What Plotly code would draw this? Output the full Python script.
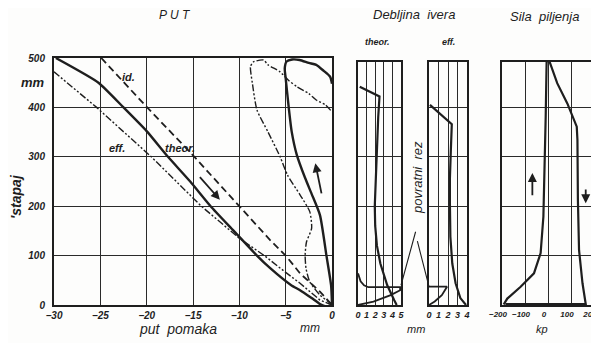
import plotly.graph_objects as go

# page body has an 8px margin; the figure is sized so that it ends at the window edge
OX, OY = 8, 8
W, H = 599 - OX, 343 - OY

# ---------------- data ----------------
# PUT panel: put pomaka (mm) vs stapaj (mm)
ideal_x = [-24.9, -20.0, -15.1, -9.9, -6.7, -4.9, -3.45, -1.3, 0]
ideal_y = [500, 401, 305, 199, 132, 98, 64, 27, 0]

theor_x = [-29.8, -25.2, -22.5, -20.0, -17.7, -15.3, -13.1, -10.6, -8.1, -6.7, -4.4, -3.45, -2.2, -1.3, -0.6, 0]
theor_y = [500, 450, 400, 352, 300, 250, 200, 150, 100, 75, 40, 30, 14, 2, -3, 0]

theor_ret_x = [0, -0.1, -0.6, -1.3, -2.2, -2.9, -3.8, -4.35, -4.7, -5.0, -5.1, -4.9, -4.3, -3.5, -2.5, -1.7, -0.9, -0.2, 0]
theor_ret_y = [0, 40, 100, 182, 225, 257, 304, 351, 405, 459, 479, 493, 497, 496, 490, 486, 474, 462, 448]

eff_x = [-30.0, -25.4, -19.5, -14.1, -10.0, -7.3, -5.0, -3.45, -1.3, 0]
eff_y = [472, 400, 300, 200, 135, 100, 66, 44, 10, 0]

eff_ret_x = [0, -0.2, -1.3, -2.4, -2.8, -2.9, -2.75, -2.2, -2.4, -3.45, -4.8, -5.6, -6.9, -8.1,
             -8.6, -8.8, -8.5, -7.4, -6.9, -5.6, -4.7, -3.8, -2.5, -1.7, -0.7, 0]
eff_ret_y = [0, 4, 20, 47, 74, 101, 128, 155, 189, 223, 263, 300, 350, 395,
             450, 482, 492, 496, 486, 472, 455, 442, 428, 415, 405, 391]

# Debljina ivera (mm) - theor.
chip_theor_x = [0.2, 2.5, 2.35, 2.2, 2.05, 1.95, 1.95, 2.0, 2.2, 2.6, 3.4, 4.2, 4.5]
chip_theor_y = [442, 422, 380, 320, 270, 230, 200, 160, 120, 84, 40, 10, 0]
chip_theor_ret_x = [0, 0.3, 0.7, 1.2, 2.5, 4.9, 4.9, 3.8, 1.8, 0]
chip_theor_ret_y = [64, 48, 40, 36, 36, 36, 30, 20, 7, 0]

# Debljina ivera (mm) - eff.
chip_eff_x = [0.1, 2.4, 2.3, 2.2, 2.2, 2.25, 2.45, 2.8, 3.3, 3.9]
chip_eff_y = [405, 366, 314, 256, 206, 138, 84, 44, 14, 0]
chip_eff_ret_x = [0, 1.9, 1.35, 0.6, 0]
chip_eff_ret_y = [37, 37, 20, 7, 0]

# Sila piljenja (kp)
force_ret_x = [-185, -190, -177, -119, -61, -32, -20, -14, -10, -6, 5]
force_ret_y = [2, 3, 13, 37, 64, 105, 179, 280, 381, 492, 495]
force_cut_x = [5, 40, 84, 113, 125, 128, 130, 135, 150, 164, -185]
force_cut_y = [495, 449, 408, 375, 361, 334, 213, 111, 44, 2, 2]

main_xticks = [-30, -25, -20, -15, -10, -5, 0]
main_yticks = [0, 100, 200, 300, 400, 500]
theor_xticks = [0, 1, 2, 3, 4, 5]
eff_xticks = [0, 1, 2, 3, 4]
force_xticks = [-200, -100, 0, 100, 200]

# ---------------- styling ----------------
ink = "#1e1e1e"
FONT = "Liberation Sans"


def f(size, bold=True):
    return dict(family=FONT, size=size, color=ink, style="italic", weight="bold" if bold else "normal")


def px(p):
    return (p - OX) / W


def py(p):
    return 1 - (p - OY) / H


def dom_x(a, b):
    return [px(a), px(b)]


def dom_y(top, bottom):
    return [py(bottom), py(top)]


fig = go.Figure()

solid = dict(color=ink, width=2.4)
dashdot = dict(color=ink, width=1.4, dash="7px,2px,2px,2px,2px,2px")
dashed = dict(color=ink, width=1.8, dash="7px,4px")

fig.add_trace(go.Scatter(x=ideal_x, y=ideal_y, mode="lines", line=dashed, xaxis="x", yaxis="y"))
fig.add_trace(go.Scatter(x=eff_x, y=eff_y, mode="lines", line=dashdot, xaxis="x", yaxis="y"))
fig.add_trace(go.Scatter(x=eff_ret_x, y=eff_ret_y, mode="lines", line=dict(dashdot, shape="spline", smoothing=0.6),
                         xaxis="x", yaxis="y"))
fig.add_trace(go.Scatter(x=theor_x, y=theor_y, mode="lines", line=dict(solid, shape="spline", smoothing=0.5),
                         xaxis="x", yaxis="y"))
fig.add_trace(go.Scatter(x=theor_ret_x, y=theor_ret_y, mode="lines", line=dict(solid, shape="spline", smoothing=0.6),
                         xaxis="x", yaxis="y"))

fig.add_trace(go.Scatter(x=chip_theor_x, y=chip_theor_y, mode="lines", line=dict(color=ink, width=2.2),
                         xaxis="x2", yaxis="y2"))
fig.add_trace(go.Scatter(x=chip_theor_ret_x, y=chip_theor_ret_y, mode="lines", line=dict(color=ink, width=1.8),
                         xaxis="x2", yaxis="y2"))
fig.add_trace(go.Scatter(x=chip_eff_x, y=chip_eff_y, mode="lines", line=dict(color=ink, width=2.2),
                         xaxis="x3", yaxis="y3"))
fig.add_trace(go.Scatter(x=chip_eff_ret_x, y=chip_eff_ret_y, mode="lines", line=dict(color=ink, width=1.8),
                         xaxis="x3", yaxis="y3"))
fig.add_trace(go.Scatter(x=force_ret_x, y=force_ret_y, mode="lines", line=dict(color=ink, width=2.2),
                         xaxis="x4", yaxis="y4"))
fig.add_trace(go.Scatter(x=force_cut_x, y=force_cut_y, mode="lines", line=dict(color=ink, width=2.2),
                         xaxis="x4", yaxis="y4"))

axis_common = dict(showline=True, mirror=True, linecolor=ink, linewidth=2,
                   showgrid=True, gridcolor="#2a2a2a", gridwidth=1.4, zeroline=False,
                   ticks="", fixedrange=True, automargin=False)

side_top = 62
side_range = [0, (305 - side_top) / 49.4 * 100]

fig.update_layout(
    width=W, height=H, margin=dict(l=0, r=0, t=0, b=0, autoexpand=False),
    paper_bgcolor="#fdfdfc", plot_bgcolor="#fdfdfc", showlegend=False,
    xaxis=dict(axis_common, domain=dom_x(54, 332), range=[-30, 0], tickvals=main_xticks,
               tickfont=f(10), ticklabelstandoff=0, anchor="y"),
    yaxis=dict(axis_common, domain=dom_y(58, 305), range=[0, 500], tickvals=main_yticks,
               tickfont=f(10), ticklabelstandoff=5, anchor="x"),
    xaxis2=dict(axis_common, domain=dom_x(358, 401), range=[0, 5], tickvals=theor_xticks,
                tickfont=f(9), ticklabelstandoff=0, anchor="y2"),
    yaxis2=dict(axis_common, domain=dom_y(side_top, 305), range=side_range, tickvals=[100, 200, 300, 400],
                showticklabels=False, anchor="x2"),
    xaxis3=dict(axis_common, domain=dom_x(429, 467), range=[0, 4], tickvals=eff_xticks,
                tickfont=f(9), ticklabelstandoff=0, anchor="y3"),
    yaxis3=dict(axis_common, domain=dom_y(side_top, 305), range=side_range, tickvals=[100, 200, 300, 400],
                showticklabels=False, anchor="x3"),
    xaxis4=dict(axis_common, domain=dom_x(502, 594), range=[-200, 200], tickvals=force_xticks,
                tickfont=f(8), ticklabelstandoff=0, ticklabelshift=-4, anchor="y4"),
    yaxis4=dict(axis_common, domain=dom_y(side_top, 305), range=side_range, tickvals=[100, 200, 300, 400],
                showticklabels=False, anchor="x4"),
)

ann = []


def text(x, y, s, size, bold=False, xref="paper", yref="paper", angle=0, xanchor="center", yanchor="middle"):
    ann.append(dict(x=x, y=y, xref=xref, yref=yref, text=s, showarrow=False, font=f(size, bold),
                    textangle=angle, xanchor=xanchor, yanchor=yanchor))


# titles
text(px(175), py(15), "P U T", 12)
text(px(414), py(15), "Debljina  ivera", 13)
text(px(544), py(17), "Sila  piljenja", 13)
text(px(377), py(42), "theor.", 9, True)
text(px(448), py(42), "eff.", 9, True)
# axis titles
text(px(16), py(197), "'stapaj", 14, True, angle=-90)
text(px(47), 450, "mm", 13, True, yref="y", xanchor="right")
text(px(178), py(329), "put  pomaka", 14)
text(px(310), py(328), "mm", 12)
text(px(416), py(329), "mm", 11)
text(px(542), py(329), "kp", 11)
text(px(417), py(178), "povratni  rez", 13, angle=-90)
# curve labels in PUT panel
text(-22.0, 462, "id.", 11, True, xref="x", yref="y")
text(-23.2, 318, "eff.", 11, True, xref="x", yref="y")
text(-16.4, 318, "theor.", 11, True, xref="x", yref="y")


def arrow(xh, yh, xt, yt, xr, yr, head=2, width=1.8):
    ann.append(dict(x=xh, y=yh, ax=xt, ay=yt, xref=xr, yref=yr, axref=xr, ayref=yr, text="",
                    showarrow=True, arrowhead=head, arrowsize=1, arrowwidth=width, arrowcolor=ink))


arrow(-12.1, 213, -14.4, 262, "x", "y")
arrow(-1.8, 287, -1.1, 223, "x", "y")
arrow(-68, 267, -68, 219, "x4", "y4")
arrow(164, 206, 164, 237, "x4", "y4")

# leader lines from "povratni rez"
ann.append(dict(x=5, y=40, xref="x2", yref="y2", ax=15, ay=-55, text="", showarrow=True,
                arrowhead=0, arrowwidth=1.1, arrowcolor=ink))
ann.append(dict(x=0, y=37, xref="x3", yref="y3", ax=-12, ay=-47, text="", showarrow=True,
                arrowhead=0, arrowwidth=1.1, arrowcolor=ink))

fig.update_layout(annotations=ann)

fig.write_html("out.html")
